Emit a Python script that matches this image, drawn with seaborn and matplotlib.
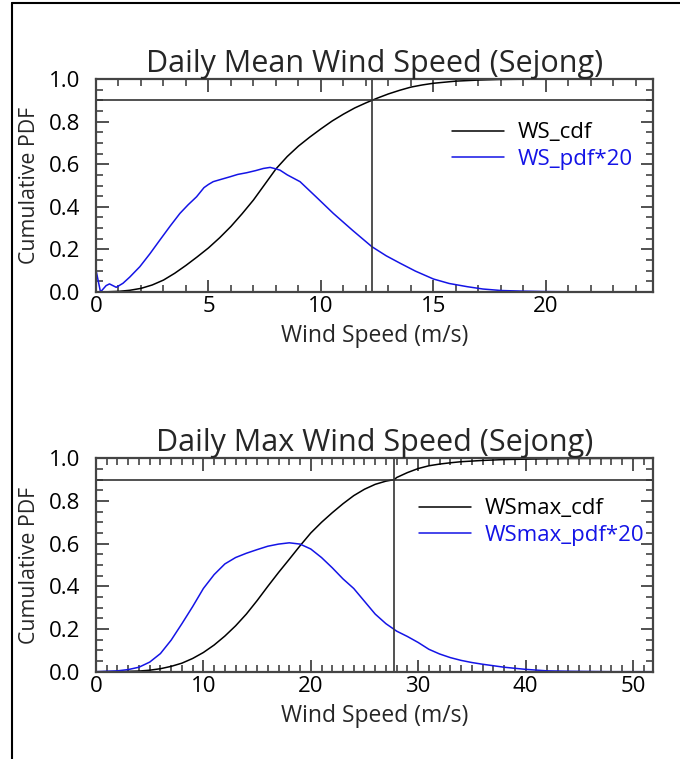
#!/usr/bin/env python3
"""
Cumulative and scaled probability density of daily mean / max wind speed (Sejong).
"""

import pandas as pd
import matplotlib.pyplot as plt
import matplotlib.lines as mlines
import seaborn as sns

# --- daily mean wind speed -------------------------------------------------
ws_cdf_x = [0.0, 0.5, 1.0, 1.5, 2.0, 2.5, 3.0, 3.5, 4.0, 4.5, 5.0, 5.5, 6.0,
            6.5, 7.0, 7.5, 8.0, 8.5, 9.0, 9.5, 10.0, 10.5, 11.0, 11.5, 12.0,
            12.5, 13.0, 13.5, 14.0, 14.5, 15.0, 16.0, 17.0, 18.0, 19.0, 20.0,
            24.75]
ws_cdf_y = [0.0, 0.001, 0.003, 0.008, 0.017, 0.033, 0.056, 0.088, 0.125,
            0.165, 0.207, 0.255, 0.308, 0.368, 0.432, 0.505, 0.578, 0.636,
            0.685, 0.727, 0.766, 0.803, 0.835, 0.864, 0.888, 0.91, 0.93, 0.947,
            0.962, 0.972, 0.98, 0.99, 0.995, 0.998, 0.999, 1.0, 1.0]

ws_pdf_x = [0.0, 0.2, 0.45, 0.6, 0.9, 1.2, 1.5, 1.95, 2.4, 2.84, 3.3, 3.73,
            4.1, 4.47, 4.8, 5.0, 5.21, 5.5, 5.96, 6.3, 6.7, 7.1, 7.44, 7.74,
            8.0, 8.18, 8.5, 9.07, 9.8, 10.55, 11.4, 12.26, 12.9, 13.52, 14.2,
            15.0, 15.7, 16.5, 17.2, 18.0, 19.0, 20.0, 21.2, 22.5]
ws_pdf_y = [0.103, 0.0, 0.03, 0.038, 0.022, 0.041, 0.07, 0.119, 0.18, 0.244,
            0.31, 0.369, 0.41, 0.447, 0.49, 0.505, 0.518, 0.527, 0.541, 0.552,
            0.56, 0.57, 0.58, 0.585, 0.578, 0.572, 0.55, 0.518, 0.445, 0.369,
            0.29, 0.213, 0.17, 0.135, 0.098, 0.061, 0.04, 0.025, 0.014, 0.007,
            0.004, 0.002, 0.001, 0.0]

ws_p90 = 12.26

# --- daily max wind speed --------------------------------------------------
wsmax_cdf_x = [0.0, 2.0, 4.0, 5.0, 6.0, 7.0, 8.0, 9.0, 10.0, 11.0, 12.0, 13.0,
               14.0, 15.0, 16.0, 17.0, 18.0, 19.0, 20.0, 21.0, 22.0, 23.0,
               24.0, 25.0, 26.0, 27.0, 27.78, 28.0, 29.0, 30.0, 31.0, 32.0,
               33.0, 34.0, 36.0, 38.0, 40.0, 44.0, 52.0]
wsmax_cdf_y = [0.0, 0.0005, 0.003, 0.007, 0.014, 0.025, 0.04, 0.062, 0.09,
               0.125, 0.167, 0.215, 0.27, 0.333, 0.4, 0.465, 0.527, 0.59, 0.65,
               0.7, 0.745, 0.787, 0.825, 0.855, 0.878, 0.893, 0.90, 0.91,
               0.933, 0.952, 0.965, 0.973, 0.979, 0.984, 0.99, 0.994, 0.996,
               0.999, 1.0]

wsmax_pdf_x = [0.0, 2.0, 3.0, 4.0, 5.0, 6.0, 7.0, 8.0, 9.0, 10.0, 11.0, 12.0,
               13.0, 14.0, 15.0, 16.0, 17.0, 18.0, 19.0, 20.0, 21.0, 22.0,
               23.0, 24.0, 25.0, 26.0, 27.0, 28.0, 29.0, 30.0, 31.0, 32.0,
               33.0, 34.0, 35.0, 36.0, 38.0, 40.0, 42.0, 44.0, 46.0, 48.0, 52.0]
wsmax_pdf_y = [0.0, 0.004, 0.01, 0.021, 0.045, 0.085, 0.148, 0.225, 0.305,
               0.39, 0.455, 0.505, 0.535, 0.555, 0.572, 0.588, 0.598, 0.604,
               0.598, 0.575, 0.535, 0.487, 0.435, 0.39, 0.33, 0.27, 0.225,
               0.19, 0.165, 0.137, 0.105, 0.083, 0.066, 0.053, 0.043, 0.035,
               0.021, 0.011, 0.004, 0.002, 0.001, 0.0, 0.0]

wsmax_p90 = 27.78

sns.set_theme(style="ticks")
plt.rcParams["font.family"] = ["Open Sans", "DejaVu Sans"]

FS_TITLE = 22
FS_XLABEL = 16.5
FS_YLABEL = 15.3
FS_TICK = 16

fig = plt.figure(figsize=(6.8, 7.59), dpi=100)

# figure frame (top + left only, as in the original export)
fig.add_artist(mlines.Line2D([12 / 680, 1.0], [1 - 3 / 759, 1 - 3 / 759],
                             color="black", lw=1.5, transform=fig.transFigure))
fig.add_artist(mlines.Line2D([12 / 680, 12 / 680], [0.0, 1 - 3 / 759],
                             color="black", lw=1.5, transform=fig.transFigure))

ax1 = fig.add_axes([96 / 680, 1 - 292 / 759, 557 / 680, 213 / 759])
ax2 = fig.add_axes([96 / 680, 1 - 671.7 / 759, 557 / 680, 213.4 / 759])

panels = [
    (ax1, "Daily Mean Wind Speed (Sejong)", "WS", ws_cdf_x, ws_cdf_y,
     ws_pdf_x, ws_pdf_y, ws_p90, 24.76, 5, (0.639, 0.796)),
    (ax2, "Daily Max Wind Speed (Sejong)", "WSmax", wsmax_cdf_x, wsmax_cdf_y,
     wsmax_pdf_x, wsmax_pdf_y, wsmax_p90, 51.87, 10, (0.58, 0.812)),
]

for (ax, title, name, cx, cy, px, py, p90, xmax, major, leg_pos) in panels:
    cdf = pd.DataFrame({"x": cx, "y": cy})
    pdf = pd.DataFrame({"x": px, "y": py})
    sns.lineplot(data=cdf, x="x", y="y", ax=ax, color="black", lw=1.1,
                 label=f"{name}_cdf", estimator=None, sort=False)
    sns.lineplot(data=pdf, x="x", y="y", ax=ax, color="#1414e6", lw=1.1,
                 label=f"{name}_pdf*20", estimator=None, sort=False)

    ax.axhline(0.9, color="#333333", lw=1.2)
    ax.axvline(p90, color="#333333", lw=1.2)

    ax.set_xlim(0, xmax)
    ax.set_ylim(0, 1.0)
    ax.set_xticks(range(0, int(xmax) + 1, major))
    ax.set_xticks([v for v in range(0, int(xmax) + 1) if v % major], minor=True)
    ax.set_yticks([0.0, 0.2, 0.4, 0.6, 0.8, 1.0])
    ax.set_yticks([i * 0.05 for i in range(21) if i % 4], minor=True)
    ax.set_yticklabels(["0.0", "0.2", "0.4", "0.6", "0.8", "1.0"])

    ax.tick_params(which="both", direction="in", top=True, right=True,
                   color="#333333", labelsize=FS_TICK, labelcolor="black")
    ax.tick_params(which="major", length=9, width=1.2)
    ax.tick_params(which="minor", length=5, width=1.1)
    ax.tick_params(axis="x", which="major", pad=3)
    ax.tick_params(axis="y", which="major", pad=11)
    for sp in ax.spines.values():
        sp.set_color("#444444")
        sp.set_linewidth(1.6)

    ax.set_title(title, fontsize=FS_TITLE, pad=2)
    ax.set_xlabel("Wind Speed (m/s)", fontsize=FS_XLABEL, labelpad=5)
    ax.set_ylabel("Cumulative PDF", fontsize=FS_YLABEL, labelpad=6.5)

    leg = ax.legend(loc="upper left", bbox_to_anchor=leg_pos, frameon=False,
                    fontsize=FS_TICK, handlelength=2.34, handletextpad=0.63,
                    labelspacing=0.24, borderpad=0, borderaxespad=0)
    for txt, line in zip(leg.get_texts(), leg.get_lines()):
        txt.set_color(line.get_color())

fig.savefig("out.png", dpi=100)
plt.close(fig)
